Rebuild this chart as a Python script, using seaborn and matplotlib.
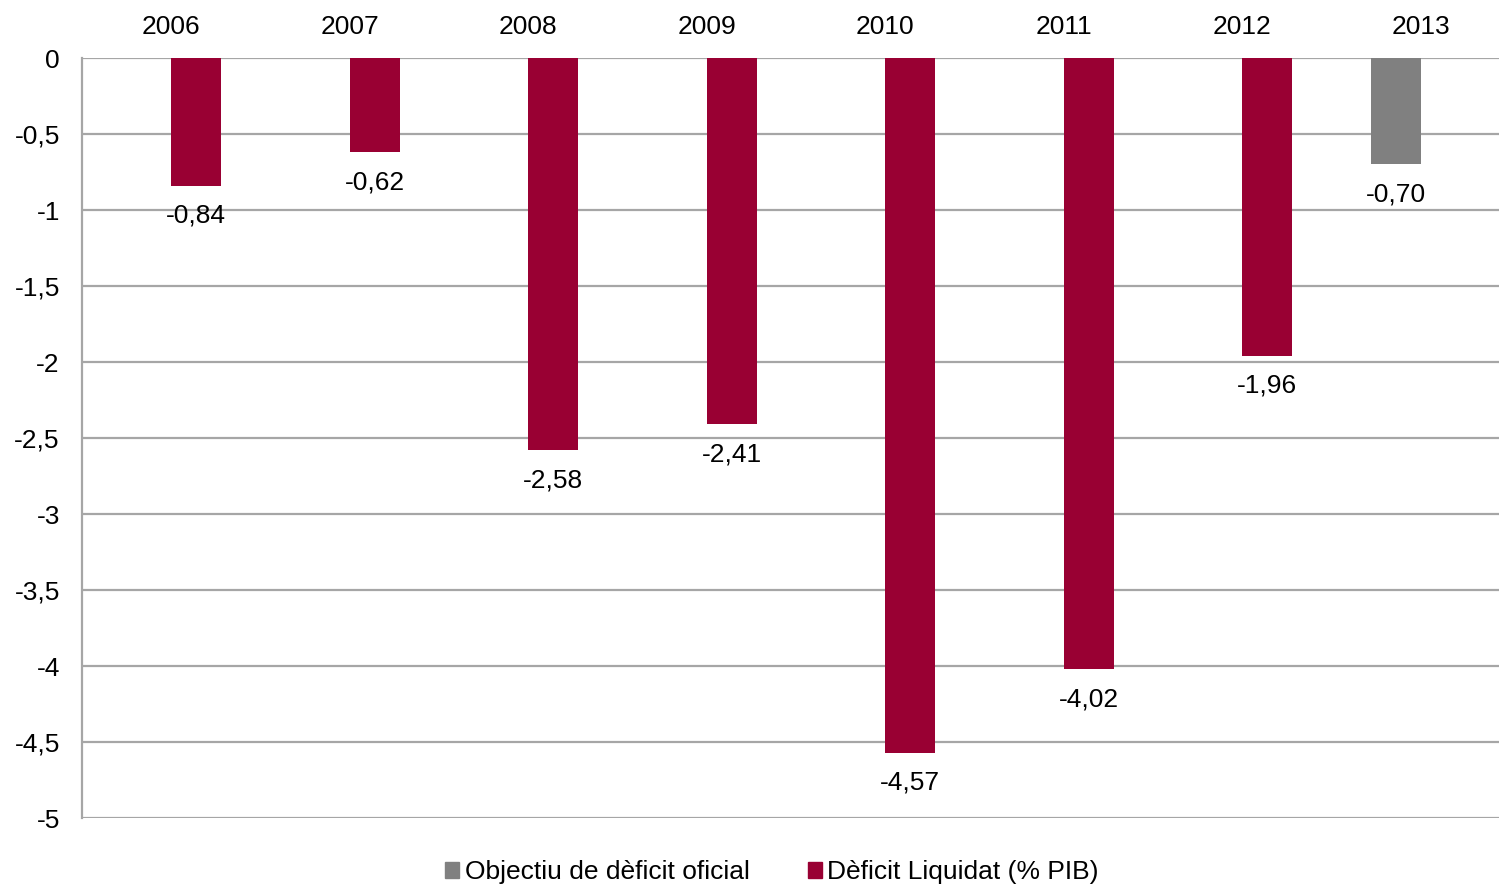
import numpy as np
import pandas as pd
import matplotlib
matplotlib.use("Agg")
import matplotlib.pyplot as plt
import seaborn as sns
from matplotlib.patches import Patch
from matplotlib.ticker import FuncFormatter

##### DATA
years = ["2006", "2007", "2008", "2009", "2010", "2011", "2012", "2013"]
liquidat = [-0.84, -0.62, -2.58, -2.41, -4.57, -4.02, -1.96, np.nan]
objectiu = [np.nan, np.nan, np.nan, np.nan, np.nan, np.nan, np.nan, -0.70]
serieObj = "Objectiu de dèficit oficial"
serieLiq = "Dèficit Liquidat (% PIB)"

df = pd.DataFrame({
    "Any": years * 2,
    "Valor": objectiu + liquidat,
    "Serie": [serieObj] * len(years) + [serieLiq] * len(years),
})

colGris = "#808080"
colGrana = "#990033"

##### PLOT
sns.set_theme(style="white")
plt.rcParams["font.family"] = ["Liberation Sans", "DejaVu Sans"]

fig = plt.figure(figsize=(14.99, 8.86), dpi=100)
ax = fig.add_axes([82 / 1499, 1 - 818 / 886, 1428 / 1499, 760 / 886])

sns.barplot(data=df, x="Any", y="Valor", hue="Serie", order=years,
            hue_order=[serieObj, serieLiq], palette=[colGris, colGrana],
            width=0.56, dodge=True, saturation=1, legend=False,
            linewidth=0, ax=ax)

# etiquetes amb coma decimal
for cont in ax.containers:
    ax.bar_label(cont, fmt=lambda v: f"{v:.2f}".replace(".", ","),
                 padding=13, fontsize=19, color="black")

ax.set_ylim(-5, 0)
ax.set_xlim(-0.5, 7.5)
ax.set_yticks(np.arange(-5, 0.01, 0.5))
ax.yaxis.set_major_formatter(FuncFormatter(
    lambda v, p: ("%g" % round(v, 1)).replace(".", ",")))
ax.grid(axis="y", color="#a6a6a6", linewidth=1.6)
ax.set_axisbelow(True)
ax.xaxis.tick_top()
ax.tick_params(axis="x", length=0, pad=14, labelsize=19, labelcolor="black")
ax.tick_params(axis="y", length=0, pad=16, labelsize=19, labelcolor="black")
ax.set_xlabel("")
ax.set_ylabel("")
for s in ["top", "right", "bottom"]:
    ax.spines[s].set_visible(False)
ax.spines["left"].set_color("#a6a6a6")
ax.spines["left"].set_linewidth(1.6)

handles = [Patch(color=colGris, label=serieObj), Patch(color=colGrana, label=serieLiq)]
fig.legend(handles=handles, loc="lower center", bbox_to_anchor=(0.515, -0.025),
           ncol=2, frameon=False, fontsize=19, handlelength=0.55, handleheight=0.55,
           handletextpad=0.2, columnspacing=2.2, labelcolor="black")

fig.savefig("out.png", dpi=100)
